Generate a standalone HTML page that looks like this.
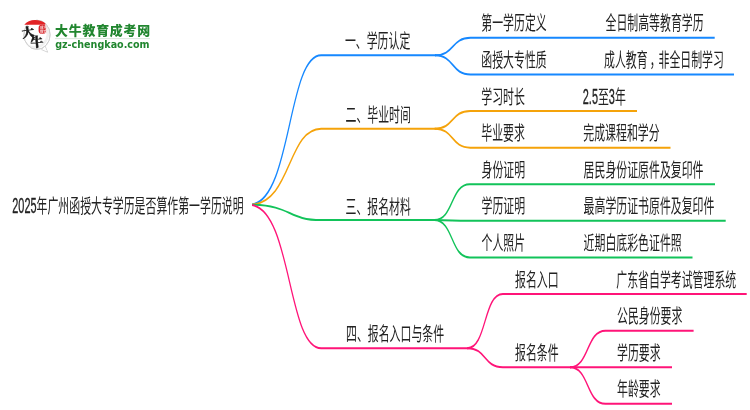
<!DOCTYPE html>
<html lang="zh-CN"><head><meta charset="utf-8"><title>2025年广州函授大专学历是否算作第一学历说明</title>
<style>
html,body{margin:0;padding:0;background:#fff;}
body{width:750px;height:410px;overflow:hidden;}
svg{display:block;will-change:transform;}
.t text{font-family:"Liberation Sans","Noto Sans CJK SC",sans-serif;font-size:19.2px;fill:#222;font-weight:400;}
.t text.d{font-size:21.50px;stroke:#222;stroke-width:0.35px;}
</style></head><body>
<svg width="750" height="410" viewBox="0 0 750 410">
<rect width="750" height="410" fill="#fff"/>
<g transform="scale(0.606,1)">
<path d="M416.01,204.56 C481.48,197.95 474.42,55.35 530.03,55.35 L719.47,55.35" stroke="#1688FF" stroke-width="2" fill="none" stroke-linecap="butt" stroke-linejoin="round"/>
<path d="M717.82,55.35 C750.04,55.35 744.18,37.85 776.40,37.85 L1179.37,37.85" stroke="#1688FF" stroke-width="2" fill="none" stroke-linecap="butt" stroke-linejoin="round"/>
<path d="M717.82,55.35 C750.04,55.35 744.18,74.45 776.40,74.45 L1211.22,74.45" stroke="#1688FF" stroke-width="2" fill="none" stroke-linecap="butt" stroke-linejoin="round"/>
<path d="M416.01,204.68 C481.48,201.31 474.42,128.70 530.03,128.70 L718.98,128.70" stroke="#F5A30A" stroke-width="2" fill="none" stroke-linecap="butt" stroke-linejoin="round"/>
<path d="M717.33,128.70 C749.55,128.70 743.69,111.05 775.91,111.05 L1051.16,111.05" stroke="#F5A30A" stroke-width="2" fill="none" stroke-linecap="butt" stroke-linejoin="round"/>
<path d="M717.33,128.70 C749.55,128.70 743.69,147.65 775.91,147.65 L1106.44,147.65" stroke="#F5A30A" stroke-width="2" fill="none" stroke-linecap="butt" stroke-linejoin="round"/>
<path d="M416.01,204.82 C481.48,205.50 474.42,220.10 530.03,220.10 L718.32,220.10" stroke="#12C35A" stroke-width="2" fill="none" stroke-linecap="butt" stroke-linejoin="round"/>
<path d="M716.67,220.10 C748.89,220.10 743.03,184.25 775.25,184.25 L1179.87,184.25" stroke="#12C35A" stroke-width="2" fill="none" stroke-linecap="butt" stroke-linejoin="round"/>
<path d="M716.67,220.10 C748.89,220.10 743.03,220.85 775.25,220.85 L1197.52,220.85" stroke="#12C35A" stroke-width="2" fill="none" stroke-linecap="butt" stroke-linejoin="round"/>
<path d="M716.67,220.10 C748.89,220.10 743.03,257.45 775.25,257.45 L1142.74,257.45" stroke="#12C35A" stroke-width="2" fill="none" stroke-linecap="butt" stroke-linejoin="round"/>
<path d="M771.12,348.20 C803.34,348.20 797.48,294.05 829.70,294.05 L1232.18,294.05" stroke="#FF1478" stroke-width="2" fill="none" stroke-linecap="butt" stroke-linejoin="round"/>
<path d="M771.12,348.20 C803.34,348.20 797.48,367.25 829.70,367.25 L942.24,367.25" stroke="#FF1478" stroke-width="2" fill="none" stroke-linecap="butt" stroke-linejoin="round"/>
<path d="M940.59,367.25 C972.81,367.25 966.96,330.65 999.17,330.65 L1144.55,330.65" stroke="#FF1478" stroke-width="2" fill="none" stroke-linecap="butt" stroke-linejoin="round"/>
<path d="M940.59,367.25 C972.81,367.25 966.96,367.25 999.17,367.25 L1108.91,367.25" stroke="#FF1478" stroke-width="2" fill="none" stroke-linecap="butt" stroke-linejoin="round"/>
<path d="M940.59,367.25 C972.81,367.25 966.96,403.85 999.17,403.85 L1108.91,403.85" stroke="#FF1478" stroke-width="2" fill="none" stroke-linecap="butt" stroke-linejoin="round"/>
<path d="M416.01,205.03 C481.48,211.37 474.42,348.20 530.03,348.20 L772.77,348.20" stroke="#FF1478" stroke-width="2" fill="none" stroke-linecap="butt" stroke-linejoin="round"/>
</g>
<g class="t">
<text class="d" transform="translate(12.30,213.10) scale(0.5069,1)">2025</text><text transform="translate(36.54,213.10) scale(0.5677,1)">年广州函授大专学历是否算作第一学历说明</text>
<text transform="translate(344.90,48.40) scale(0.5677,1)">一、学历认定</text>
<text transform="translate(481.30,30.45) scale(0.5677,1)">第一学历定义</text>
<text transform="translate(605.50,30.45) scale(0.5677,1)">全日制高等教育学历</text>
<text transform="translate(481.30,67.05) scale(0.5677,1)">函授大专性质</text>
<text transform="translate(604.00,67.05) scale(0.5677,1)">成人教育<tspan dx='3.8'>，</tspan><tspan dx='-3.8'>非全日制学习</tspan></text>
<text transform="translate(345.50,122.20) scale(0.5677,1)">二、毕业时间</text>
<text transform="translate(481.30,103.65) scale(0.5677,1)">学习时长</text>
<text class="d" transform="translate(582.80,103.65) scale(0.5069,1)">2.5</text><text transform="translate(597.95,103.65) scale(0.5677,1)">至</text><text class="d" transform="translate(608.85,103.65) scale(0.5069,1)">3</text><text transform="translate(614.91,103.65) scale(0.5677,1)">年</text>
<text transform="translate(481.30,140.25) scale(0.5677,1)">毕业要求</text>
<text transform="translate(583.30,140.25) scale(0.5677,1)">完成课程和学分</text>
<text transform="translate(345.50,213.80) scale(0.5677,1)">三、报名材料</text>
<text transform="translate(481.50,176.85) scale(0.5677,1)">身份证明</text>
<text transform="translate(583.60,176.85) scale(0.5677,1)">居民身份证原件及复印件</text>
<text transform="translate(481.50,213.45) scale(0.5677,1)">学历证明</text>
<text transform="translate(583.60,213.45) scale(0.5677,1)">最高学历证书原件及复印件</text>
<text transform="translate(481.50,250.05) scale(0.5677,1)">个人照片</text>
<text transform="translate(583.60,250.05) scale(0.5677,1)">近期白底彩色证件照</text>
<text transform="translate(515.00,286.65) scale(0.5677,1)">报名入口</text>
<text transform="translate(616.30,286.65) scale(0.5677,1)">广东省自学考试管理系统</text>
<text transform="translate(515.00,359.85) scale(0.5677,1)">报名条件</text>
<text transform="translate(617.00,323.25) scale(0.5677,1)">公民身份要求</text>
<text transform="translate(617.00,359.85) scale(0.5677,1)">学历要求</text>
<text transform="translate(617.00,396.45) scale(0.5677,1)">年龄要求</text>
<text transform="translate(346.00,341.40) scale(0.5677,1)">四、报名入口与条件</text>
</g>
<g id="logo">
<defs>
<clipPath id="bub"><ellipse cx="37" cy="34.8" rx="13.1" ry="14.6"/></clipPath>
</defs>
<path d="M45.2,46.2 L47.6,52.2 L41.6,49.6 Z" fill="#fff" stroke="#c9c9c9" stroke-width="0.8" stroke-linejoin="round"/>
<ellipse cx="37" cy="34.8" rx="13.1" ry="14.6" fill="#fff" stroke="#d2d2d2" stroke-width="0.9"/>
<path d="M44.6,46.6 L47,51.2 L42.4,49.2 Z" fill="#fff"/>
<ellipse cx="34.6" cy="32.6" rx="13.4" ry="14.9" fill="none" stroke="#f0f0f0" stroke-width="2.6" clip-path="url(#bub)"/>
<ellipse cx="37" cy="34.8" rx="13.1" ry="14.6" fill="none" stroke="#cfcfcf" stroke-width="0.9"/>
<path d="M24.3,24.8 C26.5,21.6 30.5,20.0 35,20.0 C39.5,20.0 43.2,21.2 45.4,23.6 L45.2,24.8 Z" fill="#E22326"/>
<rect x="38.6" y="24.8" width="7.4" height="9" rx="3.1" ry="3.1" fill="#D8262C"/>
<text x="40.1" y="29.0" font-family="'Liberation Sans','Noto Sans CJK SC',sans-serif" font-size="3.6" font-weight="700" fill="#f6d5d5">成考</text>
<text x="40.1" y="32.8" font-family="'Liberation Sans','Noto Sans CJK SC',sans-serif" font-size="3.6" font-weight="700" fill="#f6d5d5">教育</text>
<text transform="translate(22.6,37.8) rotate(-8)" font-family="'Liberation Serif','Noto Serif CJK SC',serif" font-size="12.5" font-weight="900" fill="#1a1a1a" stroke="#1a1a1a" stroke-width="0.45">大</text>
<text transform="translate(30.7,47.3) rotate(-4)" font-family="'Liberation Serif','Noto Serif CJK SC',serif" font-size="13" font-weight="900" fill="#1a1a1a" stroke="#1a1a1a" stroke-width="0.45">牛</text>
<text x="55.1" y="35.0" font-family="'Liberation Sans','Noto Sans CJK SC',sans-serif" font-size="12.9" font-weight="900" fill="#21862F" textLength="95.0" lengthAdjust="spacing">大牛教育成考网</text>
<rect x="55" y="38.4" width="95" height="0.7" fill="#c5dcc8"/>
<text x="55.2" y="48.2" font-family="'DejaVu Sans','Liberation Sans',sans-serif" font-size="9.6" font-weight="700" fill="#21862F" textLength="94.4" lengthAdjust="spacingAndGlyphs">gz-chengkao.com</text>
</g>

</svg>
</body></html>
